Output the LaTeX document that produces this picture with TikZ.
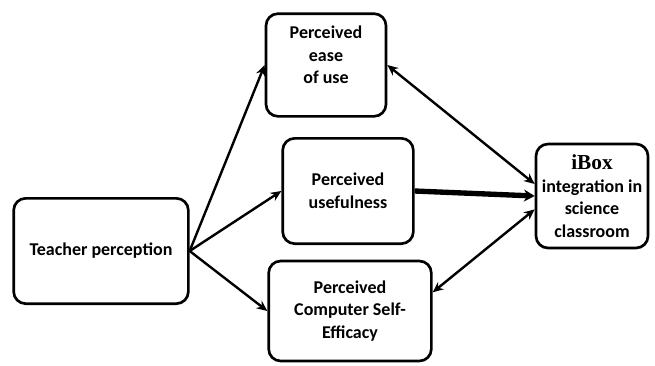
\documentclass[tikz,border=0pt]{standalone}
\usepackage{fontspec}
\setmainfont{Carlito}
\newfontfamily\boxserif{Liberation Serif}
\usetikzlibrary{arrows.meta}

\tikzset{
  factor/.style={draw, line width=2pt, rounded corners=9pt, align=center,
    font=\bfseries\fontsize{13.5}{17}\selectfont, inner sep=2pt},
  link/.style={line width=1.8pt, -{Stealth[length=8pt,width=7pt]}},
  twoway/.style={line width=1.8pt, {Stealth[length=8pt,width=7pt]}-{Stealth[length=8pt,width=7pt]}}
}

\begin{document}
\begin{tikzpicture}[x=0.75pt,y=-0.75pt]
    \useasboundingbox (0,0) rectangle (655,365);
    \node[factor, minimum width=131pt, minimum height=79pt] (teacher) at (101,251) {Teacher perception};
    \node[factor, minimum width=90pt, minimum height=77pt] (ease) at (326,65) {};
    \node[align=center, font=\bfseries\fontsize{13.5}{17}\selectfont] (easetext) at (326,55) {Perceived\\ease\\of use};
    \node[factor, minimum width=98pt, minimum height=79pt] (useful) at (348,191) {Perceived\\usefulness};
    \node[factor, minimum width=122pt, minimum height=75pt] (cse) at (350,311) {Perceived\\Computer Self-\\Efficacy};
    \node[factor, minimum width=84pt, minimum height=78pt] (ibox) at (592,196) {{\boxserif\fontsize{16}{17}\selectfont iBox}\\integration in\\science\\classroom};
    \draw[link] (teacher.east) -- (ease.west);
    \draw[link] (teacher.east) -- (useful.west);
    \draw[link] (teacher.east) -- (cse.west);
    \draw[twoway] (ease.east) -- ([yshift=9pt]ibox.west);
    \draw[line width=4pt, -{Stealth[length=8pt,width=9pt]}] (useful.east) -- (ibox.west);
    \draw[twoway] ([yshift=-10pt]ibox.west) -- ([yshift=14pt]cse.east);
  \end{tikzpicture}
\end{document}
